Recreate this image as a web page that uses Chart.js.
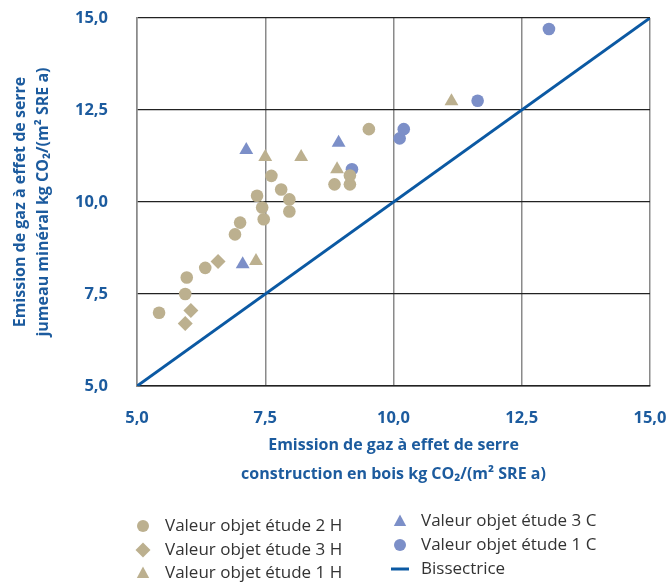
<!DOCTYPE html>
<html>
<head>
<meta charset="utf-8">
<script src="https://cdn.jsdelivr.net/npm/chart.js@4/dist/chart.umd.min.js"></script>
<style>
  html, body { margin: 0; padding: 0; background: #fff; }
  #wrap { width: 668px; height: 582px; }
</style>
</head>
<body>
<div id="wrap"><canvas id="chart"></canvas></div>
<script>
// tick values
var axisTicks = [5, 7.5, 10, 12.5, 15];

// Valeur objet étude 2 H (circles)
var etude2H_x = [5.43, 5.94, 5.97, 6.33, 6.91, 7.01, 7.34, 7.44, 7.47, 7.62, 7.81, 7.97, 7.97, 8.85, 9.15, 9.15, 9.52];
var etude2H_y = [6.99, 7.50, 7.95, 8.21, 9.12, 9.44, 10.17, 9.85, 9.53, 10.71, 10.34, 10.07, 9.74, 10.48, 10.48, 10.72, 11.98];
// Valeur objet étude 3 H (diamonds)
var etude3H_x = [6.58, 6.05, 5.94];
var etude3H_y = [8.38, 7.05, 6.70];
// Valeur objet étude 1 H (triangles)
var etude1H_x = [7.32, 7.50, 8.20, 8.90, 11.13];
var etude1H_y = [8.40, 11.22, 11.22, 10.89, 12.74];
// Valeur objet étude 3 C (blue triangles)
var etude3C_x = [7.06, 7.13, 8.93];
var etude3C_y = [8.31, 11.41, 11.61];
// Valeur objet étude 1 C (blue circles)
var etude1C_x = [9.19, 10.12, 10.20, 11.64, 13.03];
var etude1C_y = [10.89, 11.73, 11.98, 12.75, 14.70];
// Bissectrice
var bis_x = [5, 15];
var bis_y = [5, 15];

var TAN = '#bcb08f';
var BLUE = '#7c8fc8';
var LINE = '#0b59a3';
var TXT = '#1c5b9e';
var FONT = "'Open Sans', sans-serif";

function pts(xs, ys) {
  var out = [];
  for (var i = 0; i < xs.length; i++) out.push({x: xs[i], y: ys[i]});
  return out;
}
function fmt(v) { return v.toFixed(1).replace('.', ','); }

function marker(ctx, style, x, y, r, color) {
  ctx.save();
  ctx.fillStyle = color;
  ctx.beginPath();
  if (style === 'circle') {
    ctx.arc(x, y, r, 0, Math.PI * 2);
  } else if (style === 'rectRot') {
    ctx.moveTo(x, y - r); ctx.lineTo(x + r, y); ctx.lineTo(x, y + r); ctx.lineTo(x - r, y);
  } else if (style === 'triangle') {
    ctx.moveTo(x, y - r); ctx.lineTo(x + r * 0.95, y + r * 0.75); ctx.lineTo(x - r * 0.95, y + r * 0.75);
  }
  ctx.closePath();
  ctx.fill();
  ctx.restore();
}

var legendPlugin = {
  id: 'bottomLegend',
  afterDraw: function(chart) {
    var ctx = chart.ctx;
    var items = [
      {ds: 0, mx: 143, tx: 165, y: 526, r: 6},
      {ds: 1, mx: 143, tx: 165, y: 550, r: 7.5},
      {ds: 2, mx: 143, tx: 165, y: 573, r: 6.5},
      {ds: 3, mx: 400, tx: 421, y: 521, r: 6.5},
      {ds: 4, mx: 400, tx: 421, y: 545, r: 6},
      {ds: 5, mx: 400, tx: 421, y: 569, r: 0}
    ];
    ctx.save();
    ctx.font = "17px " + FONT;
    ctx.textBaseline = 'middle';
    ctx.textAlign = 'left';
    items.forEach(function(it) {
      var ds = chart.data.datasets[it.ds];
      if (ds.showLine) {
        ctx.strokeStyle = ds.borderColor;
        ctx.lineWidth = 3;
        ctx.beginPath();
        ctx.moveTo(it.mx - 9, it.y);
        ctx.lineTo(it.mx + 9, it.y);
        ctx.stroke();
      } else {
        marker(ctx, ds.pointStyle, it.mx, it.y, it.r, ds.backgroundColor);
      }
      ctx.fillStyle = '#333333';
      ctx.fillText(ds.label, it.tx, it.y);
    });
    ctx.restore();
  }
};

var scatterDs = function(label, xs, ys, style, color, r) {
  return {
    label: label,
    data: pts(xs, ys),
    pointStyle: style,
    backgroundColor: color,
    borderColor: color,
    borderWidth: 0,
    pointRadius: r,
    pointHoverRadius: r,
    showLine: false
  };
};

new Chart(document.getElementById('chart'), {
  type: 'scatter',
  data: {
    datasets: [
      scatterDs('Valeur objet étude 2 H', etude2H_x, etude2H_y, 'circle', TAN, 6.3),
      scatterDs('Valeur objet étude 3 H', etude3H_x, etude3H_y, 'rectRot', TAN, 7.5),
      scatterDs('Valeur objet étude 1 H', etude1H_x, etude1H_y, 'triangle', TAN, 8),
      scatterDs('Valeur objet étude 3 C', etude3C_x, etude3C_y, 'triangle', BLUE, 8),
      scatterDs('Valeur objet étude 1 C', etude1C_x, etude1C_y, 'circle', BLUE, 6.3),
      {
        label: 'Bissectrice',
        data: pts(bis_x, bis_y),
        showLine: true,
        borderColor: LINE,
        backgroundColor: LINE,
        borderWidth: 3,
        pointRadius: 0,
        pointHoverRadius: 0,
        order: 10
      }
    ]
  },
  options: {
    responsive: true,
    maintainAspectRatio: false,
    animation: false,
    layout: { padding: { top: 18, right: 18, left: 0, bottom: 0 } },
    plugins: {
      legend: { display: false },
      tooltip: { enabled: false }
    },
    scales: {
      x: {
        type: 'linear',
        min: 5, max: 15,
        afterBuildTicks: function(s) { s.ticks = axisTicks.map(function(v) { return {value: v}; }); },
        afterFit: function(s) { s.height = 196; s.paddingLeft = 0; s.paddingRight = 0; },
        grid: { color: '#8a8a8a', lineWidth: 1.5, drawTicks: false },
        border: { color: '#222222', width: 1.5 },
        ticks: {
          padding: 22,
          color: TXT,
          font: { family: FONT, size: 16.5, weight: 'bold' },
          callback: function(v) { return fmt(v); }
        },
        title: {
          display: true,
          text: ['Emission de gaz à effet de serre', 'construction en bois kg CO₂/(m² SRE a)'],
          color: TXT,
          font: { family: FONT, size: 16, weight: 'bold', lineHeight: 1.8 },
          padding: { top: 0, bottom: 93 }
        }
      },
      y: {
        type: 'linear',
        min: 5, max: 15,
        afterBuildTicks: function(s) { s.ticks = axisTicks.map(function(v) { return {value: v}; }); },
        afterFit: function(s) { s.width = 137; s.paddingTop = 0; s.paddingBottom = 0; },
        grid: { color: '#222222', lineWidth: 1.2, drawTicks: false },
        border: { color: '#8a8a8a', width: 1.5 },
        ticks: {
          padding: 29,
          color: TXT,
          font: { family: FONT, size: 16.5, weight: 'bold' },
          callback: function(v) { return fmt(v); }
        },
        title: {
          display: true,
          text: ['Emission de gaz à effet de serre', 'jumeau minéral kg CO₂/(m² SRE a)'],
          color: TXT,
          font: { family: FONT, size: 16, weight: 'bold', lineHeight: 1.45 },
          padding: { top: 9, bottom: 0 }
        }
      }
    }
  },
  plugins: [legendPlugin]
});
</script>
</body>
</html>
